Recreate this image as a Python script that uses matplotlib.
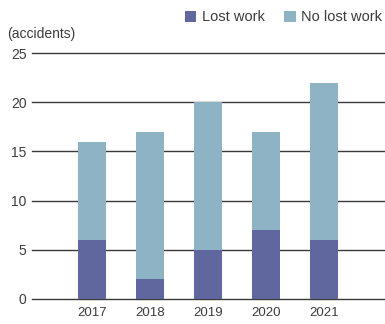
import matplotlib
matplotlib.use("Agg")
import matplotlib.pyplot as plt
import numpy as np

years = ["2017", "2018", "2019", "2020", "2021"]
lost_work = [6, 2, 5, 7, 6]
no_lost_work = [10, 15, 15, 10, 16]
y_ticks = [0, 5, 10, 15, 20, 25]

dark = "#60679e"
light = "#8db3c5"
text_color = "#3c3c3c"

plt.rcParams["font.family"] = ["Liberation Sans", "DejaVu Sans"]

fig = plt.figure(figsize=(3.85, 3.24), dpi=100)
ax = fig.add_axes([0.083, 0.0772, 0.917, 0.7592])

x = np.arange(len(years))
width = 0.483
ax.bar(x, lost_work, width, color=dark, label="Lost work", zorder=3)
ax.bar(x, no_lost_work, width, bottom=lost_work, color=light,
       label="No lost work", zorder=3)

for t in y_ticks:
    ax.axhline(t, color="#3a3a3a", linewidth=1.0, zorder=2, clip_on=False)

ax.set_ylim(0, 25)
ax.set_xlim(-1.034, 5.05)
ax.set_yticks(y_ticks)
ax.set_xticks(x)
ax.set_xticklabels(years)
for s in ax.spines.values():
    s.set_visible(False)
ax.tick_params(axis="y", length=0, pad=4, labelsize=10, labelcolor=text_color)
ax.tick_params(axis="x", length=0, pad=6, labelsize=9.5, labelcolor=text_color)

fig.text(0.018, 0.895, "(accidents)", fontsize=10, color=text_color,
         ha="left", va="center")

fig.legend(loc="upper right", bbox_to_anchor=(1.02, 1.0), ncol=2,
           frameon=False, fontsize=10.5, handlelength=0.8, handleheight=0.8,
           handletextpad=0.4, columnspacing=1.3, labelcolor=text_color,
           borderaxespad=0.3)

fig.savefig("out.png", dpi=100)
